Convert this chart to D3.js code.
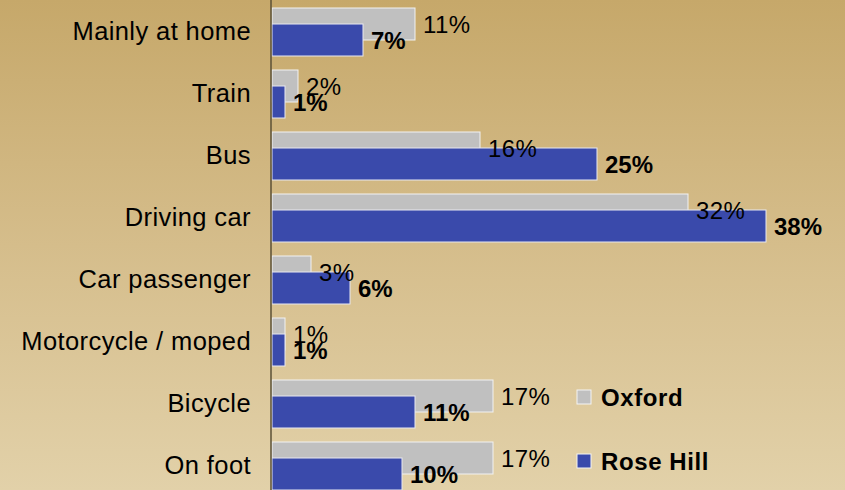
<!DOCTYPE html>
<html>
<head>
<meta charset="utf-8">
<script src="https://cdn.jsdelivr.net/npm/d3@7/dist/d3.min.js"></script>
<style>
  html, body { margin: 0; padding: 0; }
  svg { display: block; }
  text { font-family: Arial, "Liberation Sans", sans-serif; fill: #000; }
</style>
</head>
<body>
<svg id="chart" width="845" height="490"></svg>
<script>
// How people travel to work: Oxford vs Rose Hill (percent)
const categories = ["Mainly at home", "Train", "Bus", "Driving car", "Car passenger",
                    "Motorcycle / moped", "Bicycle", "On foot"];
const oxford   = [11, 2, 16, 32, 3, 1, 17, 17];
const roseHill = [7, 1, 25, 38, 6, 1, 11, 10];
const seriesNames = ["Oxford", "Rose Hill"];
const seriesColors = ["#c0c0c0", "#3a4aab"];

const W = 845, H = 490;
const svg = d3.select("#chart");

// vertical tan background
const defs = svg.append("defs");
const grad = defs.append("linearGradient").attr("id", "bg")
  .attr("x1", 0).attr("y1", 0).attr("x2", 0).attr("y2", 1);
grad.append("stop").attr("offset", "0%").attr("stop-color", "#c6a86a");
grad.append("stop").attr("offset", "50%").attr("stop-color", "#d5bd8b");
grad.append("stop").attr("offset", "100%").attr("stop-color", "#e2d1a9");
svg.append("rect").attr("width", W).attr("height", H).attr("fill", "url(#bg)");

const x = d3.scaleLinear().domain([0, 40]).range([272, 792]);
const y = d3.scaleBand().domain(categories).range([1, 497]).padding(0);
const barH = 32;
const center = c => y(c) + y.bandwidth() / 2;

const rows = categories.map((c, i) => ({ cat: c, ox: oxford[i], rh: roseHill[i] }));

// Oxford bars (behind)
svg.append("g").selectAll("rect").data(rows).join("rect")
  .attr("x", x(0)).attr("y", d => center(d.cat) - 24)
  .attr("width", d => x(d.ox) - x(0)).attr("height", barH)
  .attr("fill", seriesColors[0]).attr("stroke", "#f2f2f2").attr("stroke-width", 1);

// Rose Hill bars (front)
svg.append("g").selectAll("rect").data(rows).join("rect")
  .attr("x", x(0)).attr("y", d => center(d.cat) - 8)
  .attr("width", d => x(d.rh) - x(0)).attr("height", barH)
  .attr("fill", seriesColors[1]).attr("stroke", "#e8e8f0").attr("stroke-width", 1);

// value labels
svg.append("g").selectAll("text").data(rows).join("text")
  .attr("x", d => x(d.ox) + 8).attr("y", d => center(d.cat) - 8)
  .attr("dy", "0.36em").style("font-size", "24px").style("letter-spacing", "0.4px")
  .text(d => d.ox + "%");
svg.append("g").selectAll("text").data(rows).join("text")
  .attr("x", d => x(d.rh) + 8).attr("y", d => center(d.cat) + 8)
  .attr("dy", "0.36em").style("font-size", "24px").style("font-weight", "bold")
  .text(d => d.rh + "%");

// category axis
const axis = svg.append("g").attr("transform", "translate(271,0)")
  .call(d3.axisLeft(y).tickSize(0).tickPadding(20));
axis.select(".domain").remove();
axis.selectAll("text").style("font-size", "25.5px").style("letter-spacing", "0.4px")
  .style("font-family", "Arial, 'Liberation Sans', sans-serif").attr("fill", "#000");
svg.append("line").attr("x1", 271).attr("x2", 271).attr("y1", 0).attr("y2", H)
  .attr("stroke", "#5b5036").attr("stroke-width", 1.5);

// legend
const legend = svg.append("g").selectAll("g").data(seriesNames).join("g")
  .attr("transform", (d, i) => `translate(577,${397 + i * 64})`);
legend.append("rect").attr("x", 0).attr("y", -7).attr("width", 14).attr("height", 14)
  .attr("fill", (d, i) => seriesColors[i]).attr("stroke", "#f4f4f4").attr("stroke-width", 1);
legend.append("text").attr("x", 24).attr("dy", "0.36em")
  .style("font-size", "24px").style("font-weight", "bold").style("letter-spacing", "0.6px")
  .text(d => d);
</script>
</body>
</html>
